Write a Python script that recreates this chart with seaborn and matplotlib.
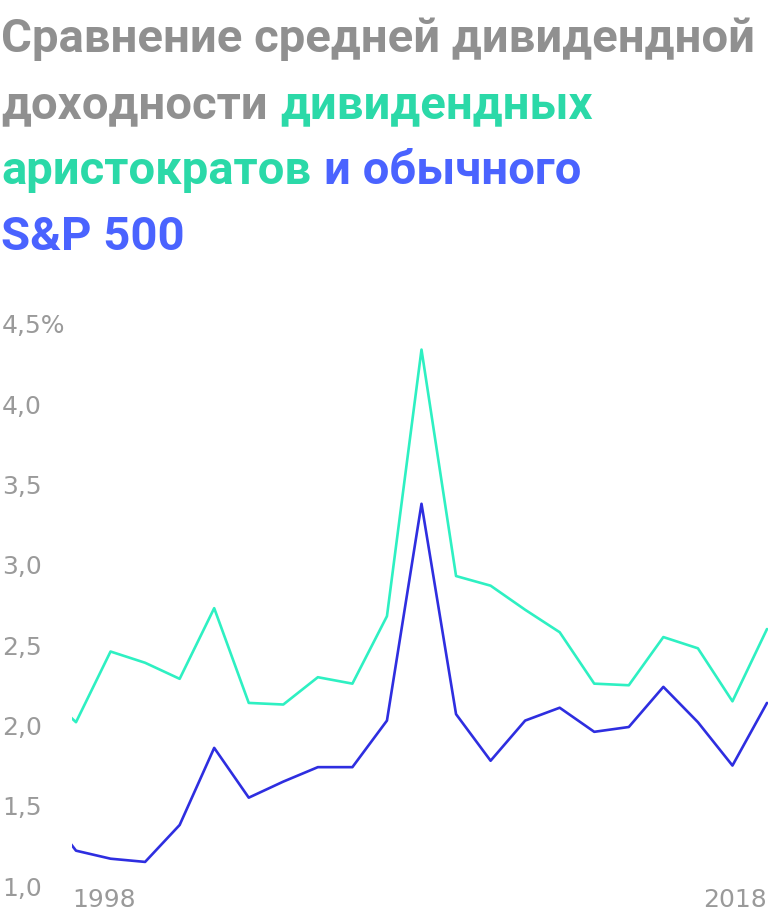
import matplotlib
matplotlib.use("Agg")
import matplotlib.pyplot as plt
import matplotlib.transforms as mtransforms
import seaborn as sns
import pandas as pd

# ---- data ----
years = list(range(1997, 2019))
aristocrats = [2.22, 2.02, 2.46, 2.39, 2.29, 2.73, 2.14, 2.13, 2.30, 2.26, 2.68,
               4.34, 2.93, 2.87, 2.72, 2.58, 2.26, 2.25, 2.55, 2.48, 2.15, 2.60]
sp500 = [1.50, 1.22, 1.17, 1.15, 1.38, 1.86, 1.55, 1.65, 1.74, 1.74, 2.03,
         3.38, 2.07, 1.78, 2.03, 2.11, 1.96, 1.99, 2.24, 2.02, 1.75, 2.14]
y_ticks = [1.0, 1.5, 2.0, 2.5, 3.0, 3.5, 4.0, 4.5]
y_labels = ["1,0", "1,5", "2,0", "2,5", "3,0", "3,5", "4,0", "4,5%"]
x_ticks = [1998, 2018]
x_labels = ["1998", "2018"]
title_lines = [
    [("Сравнение средней дивидендной", "grey")],
    [("доходности", "grey"), ("дивидендных", "green")],
    [("аристократов", "green"), ("и обычного", "blue")],
    [("S&P 500", "blue")],
]

GREEN_LINE = "#2ef0c2"
BLUE_LINE = "#2e2ee0"
TITLE_COL = {"grey": "#909090", "green": "#2bd9a8", "blue": "#4a63ff"}
TICK_COL = "#9a9a9a"

sns.set_theme(style="white")
plt.rcParams["font.family"] = ["Roboto", "DejaVu Sans"]

W, H = 768, 922
fig = plt.figure(figsize=(W / 100, H / 100), dpi=100)

ax_left = 72 / W
ax_bottom = (H - 886) / H
ax_top = (H - 300) / H
ax = fig.add_axes([ax_left, ax_bottom, 1 - ax_left, ax_top - ax_bottom])

df = pd.DataFrame({"year": years, "arist": aristocrats, "sp": sp500})
sns.lineplot(data=df, x="year", y="arist", ax=ax, color=GREEN_LINE, linewidth=1.9)
sns.lineplot(data=df, x="year", y="sp", ax=ax, color=BLUE_LINE, linewidth=1.9)

px_per_year = (767 - 76) / 20
ax.set_xlim(1998 - 4 / px_per_year, 2018 + 1 / px_per_year)
px_per_unit = 160.6
ax.set_ylim(1.0, 1.0 + 586 / px_per_unit)

for s in ax.spines.values():
    s.set_visible(False)
ax.grid(False)
ax.set_xlabel("")
ax.set_ylabel("")

tick_font = "DejaVu Sans"
ax.set_yticks(y_ticks)
ax.set_yticklabels(y_labels, fontfamily=tick_font)
ax.tick_params(axis="y", length=0, pad=70 * 0.72, labelsize=18, labelcolor=TICK_COL)
for t in ax.get_yticklabels():
    t.set_horizontalalignment("left")

ax.set_xticks(x_ticks)
ax.set_xticklabels(x_labels, fontfamily=tick_font)
ax.tick_params(axis="x", length=0, pad=1.5, labelsize=18, labelcolor=TICK_COL)
xt = ax.get_xticklabels()
xt[0].set_horizontalalignment("left")
xt[1].set_horizontalalignment("right")
off0 = mtransforms.ScaledTranslation(-4 / 100, 0, fig.dpi_scale_trans)
xt[0].set_transform(xt[0].get_transform() + off0)

# ---- multi-colour title ----
renderer = fig.canvas.get_renderer()
baselines = [52, 118, 184, 250]
GAP = 13
for line, base in zip(title_lines, baselines):
    x = 1.0
    for txt, col in line:
        t = fig.text(x / W, (H - base) / H, txt, color=TITLE_COL[col],
                     fontsize=34, fontweight="bold", ha="left", va="baseline")
        bb = t.get_window_extent(renderer=renderer)
        x = bb.x1 + GAP
fig.savefig("out.png", dpi=100)
